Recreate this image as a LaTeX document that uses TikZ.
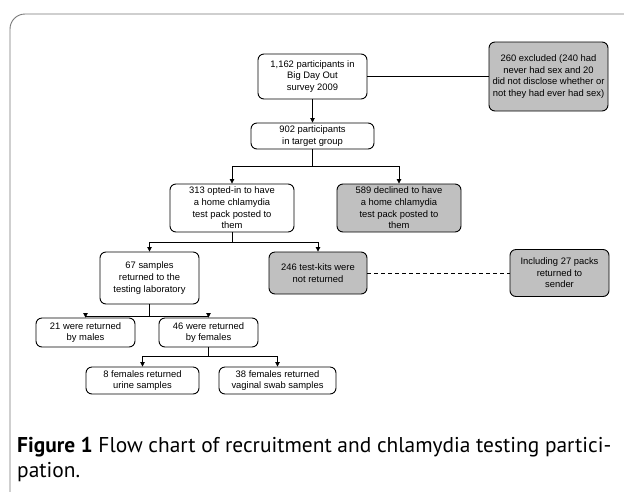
\documentclass[tikz,border=0pt]{standalone}
\usepackage{fontspec}
\usepackage{graphicx}
\setmainfont{Liberation Sans}
\newfontfamily\capfont{PT Sans}
\usetikzlibrary{arrows.meta}
\definecolor{boxgray}{RGB}{192,192,192}
\definecolor{framegray}{RGB}{120,120,120}
\begin{document}
\begin{tikzpicture}[x=1pt,y=-1pt,
  box/.style={draw=black, line width=0.9pt, rounded corners=6pt, fill=white,
    align=center, inner sep=0pt, font=\fontsize{9.4}{11.6}\selectfont},
  greybox/.style={box, fill=boxgray},
  link/.style={line width=0.8pt, draw=black},
  conn/.style={link, -{Triangle[length=4.5pt,width=4.5pt]}},
  frame/.style={draw=framegray, line width=0.9pt, rounded corners=15pt},
  captext/.style={anchor=base west, inner sep=0pt, font=\capfont\fontsize{20}{23.5}\selectfont}]
\useasboundingbox (0,0) rectangle (624,491);
\draw[frame] (10,510) -- (10,14) -- (650,14);

\node[box, minimum width=109pt, minimum height=45pt] (n1) at (312.5,76.5)
  {1,162 participants in\\Big Day Out\\survey 2009};
\node[greybox, minimum width=119pt, minimum height=69pt] (excl) at (548.5,76.5)
  {260 excluded (240 had\\never had sex and 20\\did not disclose whether or\\not they had ever had sex)};
\node[box, minimum width=123pt, minimum height=26pt] (n902) at (312.5,136)
  {902 participants\\in target group};
\node[box, minimum width=124pt, minimum height=48pt] (n313) at (232,208)
  {313 opted-in to have\\a home chlamydia\\test pack posted to\\them};
\node[greybox, minimum width=124pt, minimum height=48pt] (n589) at (399,208)
  {589 declined to have\\a home chlamydia\\test pack posted to\\them};
\node[box, minimum width=99pt, minimum height=52pt] (n67) at (149.5,278)
  {67 samples\\returned to the\\testing laboratory};
\node[greybox, minimum width=98pt, minimum height=42pt] (n246) at (318,273)
  {246 test-kits were\\not returned};
\node[greybox, minimum width=99pt, minimum height=47pt] (inc) at (559.5,273)
  {Including 27 packs\\returned to\\sender};
\node[box, minimum width=99pt, minimum height=29pt] (n21) at (85.5,332.5)
  {21 were returned\\by males};
\node[box, minimum width=99pt, minimum height=29pt] (n46) at (208.5,332.5)
  {46 were returned\\by females};
\node[box, minimum width=113pt, minimum height=27pt] (n8) at (142.5,380.5)
  {8 females returned\\urine samples};
\node[box, minimum width=117pt, minimum height=27pt] (n38) at (277.5,380.5)
  {38 females returned\\vaginal swab samples};

\draw[conn] (n1) -- (n902);
\draw[link] (n1) -- (excl);

\coordinate (b1) at (312.5,166);
\draw[link] (n902.south) -- (b1);
\draw[conn] (b1) -| (n313.north);
\draw[conn] (b1) -| (n589.north);

\coordinate (b2) at (232,242);
\draw[link] (n313.south) -- (b2);
\draw[conn] (b2) -| (n67.north);
\draw[conn] (b2) -| (n246.north);

\draw[link, dash pattern=on 4pt off 3pt] (n246) -- (inc);

\coordinate (b3) at (149.5,316);
\draw[link] (n67.south) -- (b3);
\draw[conn] (b3) -| (n21.north);
\draw[conn] (b3) -| (n46.north);

\coordinate (b4) at (208.5,356);
\draw[link] (n46.south) -- (b4);
\draw[conn] (b4) -| (n8.north);
\draw[conn] (b4) -| (n38.north);

\node[captext] (cap) at (17,452)
  {\resizebox{594pt}{!}{\begin{tabular}[t]{@{}l@{}}\textbf{Figure 1} Flow chart of recruitment and chlamydia testing partici-\\pation.\end{tabular}}};
\end{tikzpicture}
\end{document}
